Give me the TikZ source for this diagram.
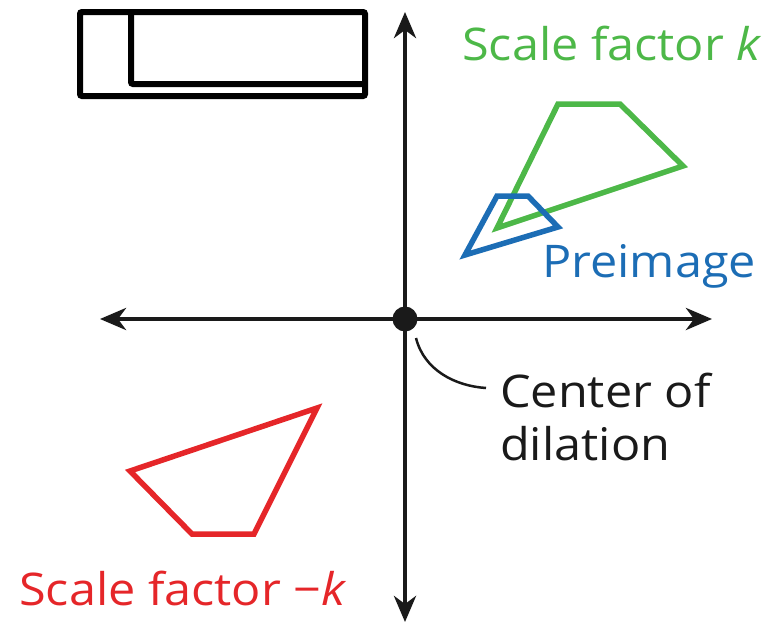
\documentclass[tikz,border=0pt]{standalone}
\usepackage{fontspec}
\setmainfont{Open Sans}[FakeStretch=1.08]
\usetikzlibrary{arrows.meta, positioning}
\definecolor{dilgreen}{HTML}{4DB848}
\definecolor{dilblue}{HTML}{1C6DB5}
\definecolor{dilred}{HTML}{E52629}
\definecolor{dilink}{HTML}{1A1A1A}
\tikzset{
  axis/.style={{Stealth[length=26pt,width=22pt,inset=8pt]}-{Stealth[length=26pt,width=22pt,inset=8pt]},
    line width=4.8pt, dilink},
  figline/.style={line width=5.5pt, line join=miter},
  framebox/.style={line width=6pt, black, rounded corners=2pt},
  lbl/.style={inner sep=0pt, font=\fontsize{45}{53}\selectfont, align=left},
  callout/.style={line width=2.5pt, dilink},
  dot/.style={circle, fill=dilink, minimum size=25pt, inner sep=0pt},
}

\begin{document}
\begin{tikzpicture}[x=1pt, y=-1pt]
  \useasboundingbox (0,0) rectangle (771,624);
  % empty answer box
  \draw[framebox] (80,12) rectangle (365,96);
  \draw[framebox] (131,12) |- (365,84);
  % axes
  \node[dot] (O) at (405,319) {};
  \coordinate (xl) at (100,319);
  \coordinate (xr) at (712,319);
  \coordinate (yt) at (405,12);
  \coordinate (yb) at (405,622);
  \draw[axis] (xl) -- (xr);
  \draw[axis] (yb) -- (yt);
  % figures
  \draw[figline, dilgreen] (558,104) -- (620,104) -- (683,166) -- (497,228) -- cycle;
  \draw[figline, dilblue] (497,196) -- (528,196) -- (558,227) -- (465,255) -- cycle;
  \draw[figline, dilred] (317,408) -- (130,471) -- (192,534) -- (254,534) -- cycle;
  % labels
  \node[lbl, anchor=base west, text=dilgreen] (kLabel) at (462,60) {Scale factor \textit{k}};
  \node[lbl, anchor=base west, text=dilblue] (preLabel) at (542,277) {Preimage};
  \node[lbl, anchor=north west, text=dilink] (centerLabel) at (500,373) {Center of\\dilation};
  \node[lbl, anchor=base west, text=dilred] (negkLabel) at (19,605) {Scale factor −\textit{k}};
  \coordinate (cstart) at (416,338);
  \coordinate (cend) at (486,388);
  \draw[callout] (cstart) .. controls (424,370) and (455,386) .. (cend);
\end{tikzpicture}
\end{document}
